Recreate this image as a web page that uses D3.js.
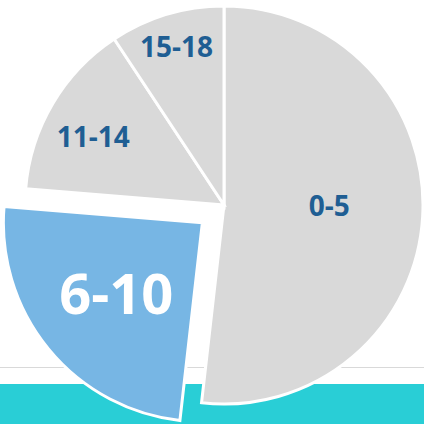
<!DOCTYPE html>
<html>
<head>
<meta charset="utf-8">
<script src="https://cdn.jsdelivr.net/npm/d3@7"></script>
<style>
  html, body { margin: 0; padding: 0; background: #ffffff; }
  svg { display: block; }
</style>
</head>
<body>
<svg id="chart" width="424" height="424"></svg>
<script>
// ---- data ----
const categories = ["0-5", "6-10", "11-14", "15-18"];
const values = [51.8, 24.5, 14.4, 9.3];
const exploded = [false, true, false, false];

// ---- layout / style ----
const W = 424, H = 424;
const cx = 224, cy = 205, R = 199;
const explodeDist = 28;
const sliceColors = ["#D9D9D9", "#77B6E4", "#D9D9D9", "#D9D9D9"];
const labelColors = ["#1F5E93", "#FFFFFF", "#1F5E93", "#1F5E93"];
const labelSizes = [28, 56, 28, 28];
const labelRadius = [0.53, 0.56, 0.74, 0.83];
const labelNudge = [[0, -5], [0, 0], [-4, 7], [0, 0]];

const svg = d3.select("#chart");

// background decorations
svg.append("line")
  .attr("x1", 0).attr("x2", W)
  .attr("y1", 367.5).attr("y2", 367.5)
  .attr("stroke", "#D9D9D9").attr("stroke-width", 1);
svg.append("rect")
  .attr("x", 0).attr("y", 384)
  .attr("width", W).attr("height", H - 384)
  .attr("fill", "#29CED6");

const pie = d3.pie().sort(null).value(d => d)
  .startAngle(0).endAngle(2 * Math.PI);
const arcs = pie(values);
const arc = d3.arc().innerRadius(0).outerRadius(R);

const g = svg.append("g").attr("transform", `translate(${cx},${cy})`);

const slices = g.selectAll("g.slice").data(arcs).enter().append("g")
  .attr("class", "slice")
  .attr("transform", (d, i) => {
    if (!exploded[i]) return null;
    const m = (d.startAngle + d.endAngle) / 2;
    return `translate(${Math.sin(m) * explodeDist},${-Math.cos(m) * explodeDist})`;
  });

slices.append("path")
  .attr("d", arc)
  .attr("fill", (d, i) => sliceColors[i])
  .attr("stroke", "#FFFFFF")
  .attr("stroke-width", 3)
  .attr("stroke-linejoin", "miter");

slices.append("text")
  .attr("x", (d, i) => Math.sin((d.startAngle + d.endAngle) / 2) * R * labelRadius[i] + labelNudge[i][0])
  .attr("y", (d, i) => -Math.cos((d.startAngle + d.endAngle) / 2) * R * labelRadius[i] + labelNudge[i][1])
  .attr("dy", "0.36em")
  .attr("text-anchor", "middle")
  .attr("font-family", "'Open Sans', 'Noto Sans', sans-serif")
  .attr("font-weight", "bold")
  .attr("font-size", (d, i) => labelSizes[i])
  .attr("fill", (d, i) => labelColors[i])
  .text((d, i) => categories[i]);
</script>
</body>
</html>
